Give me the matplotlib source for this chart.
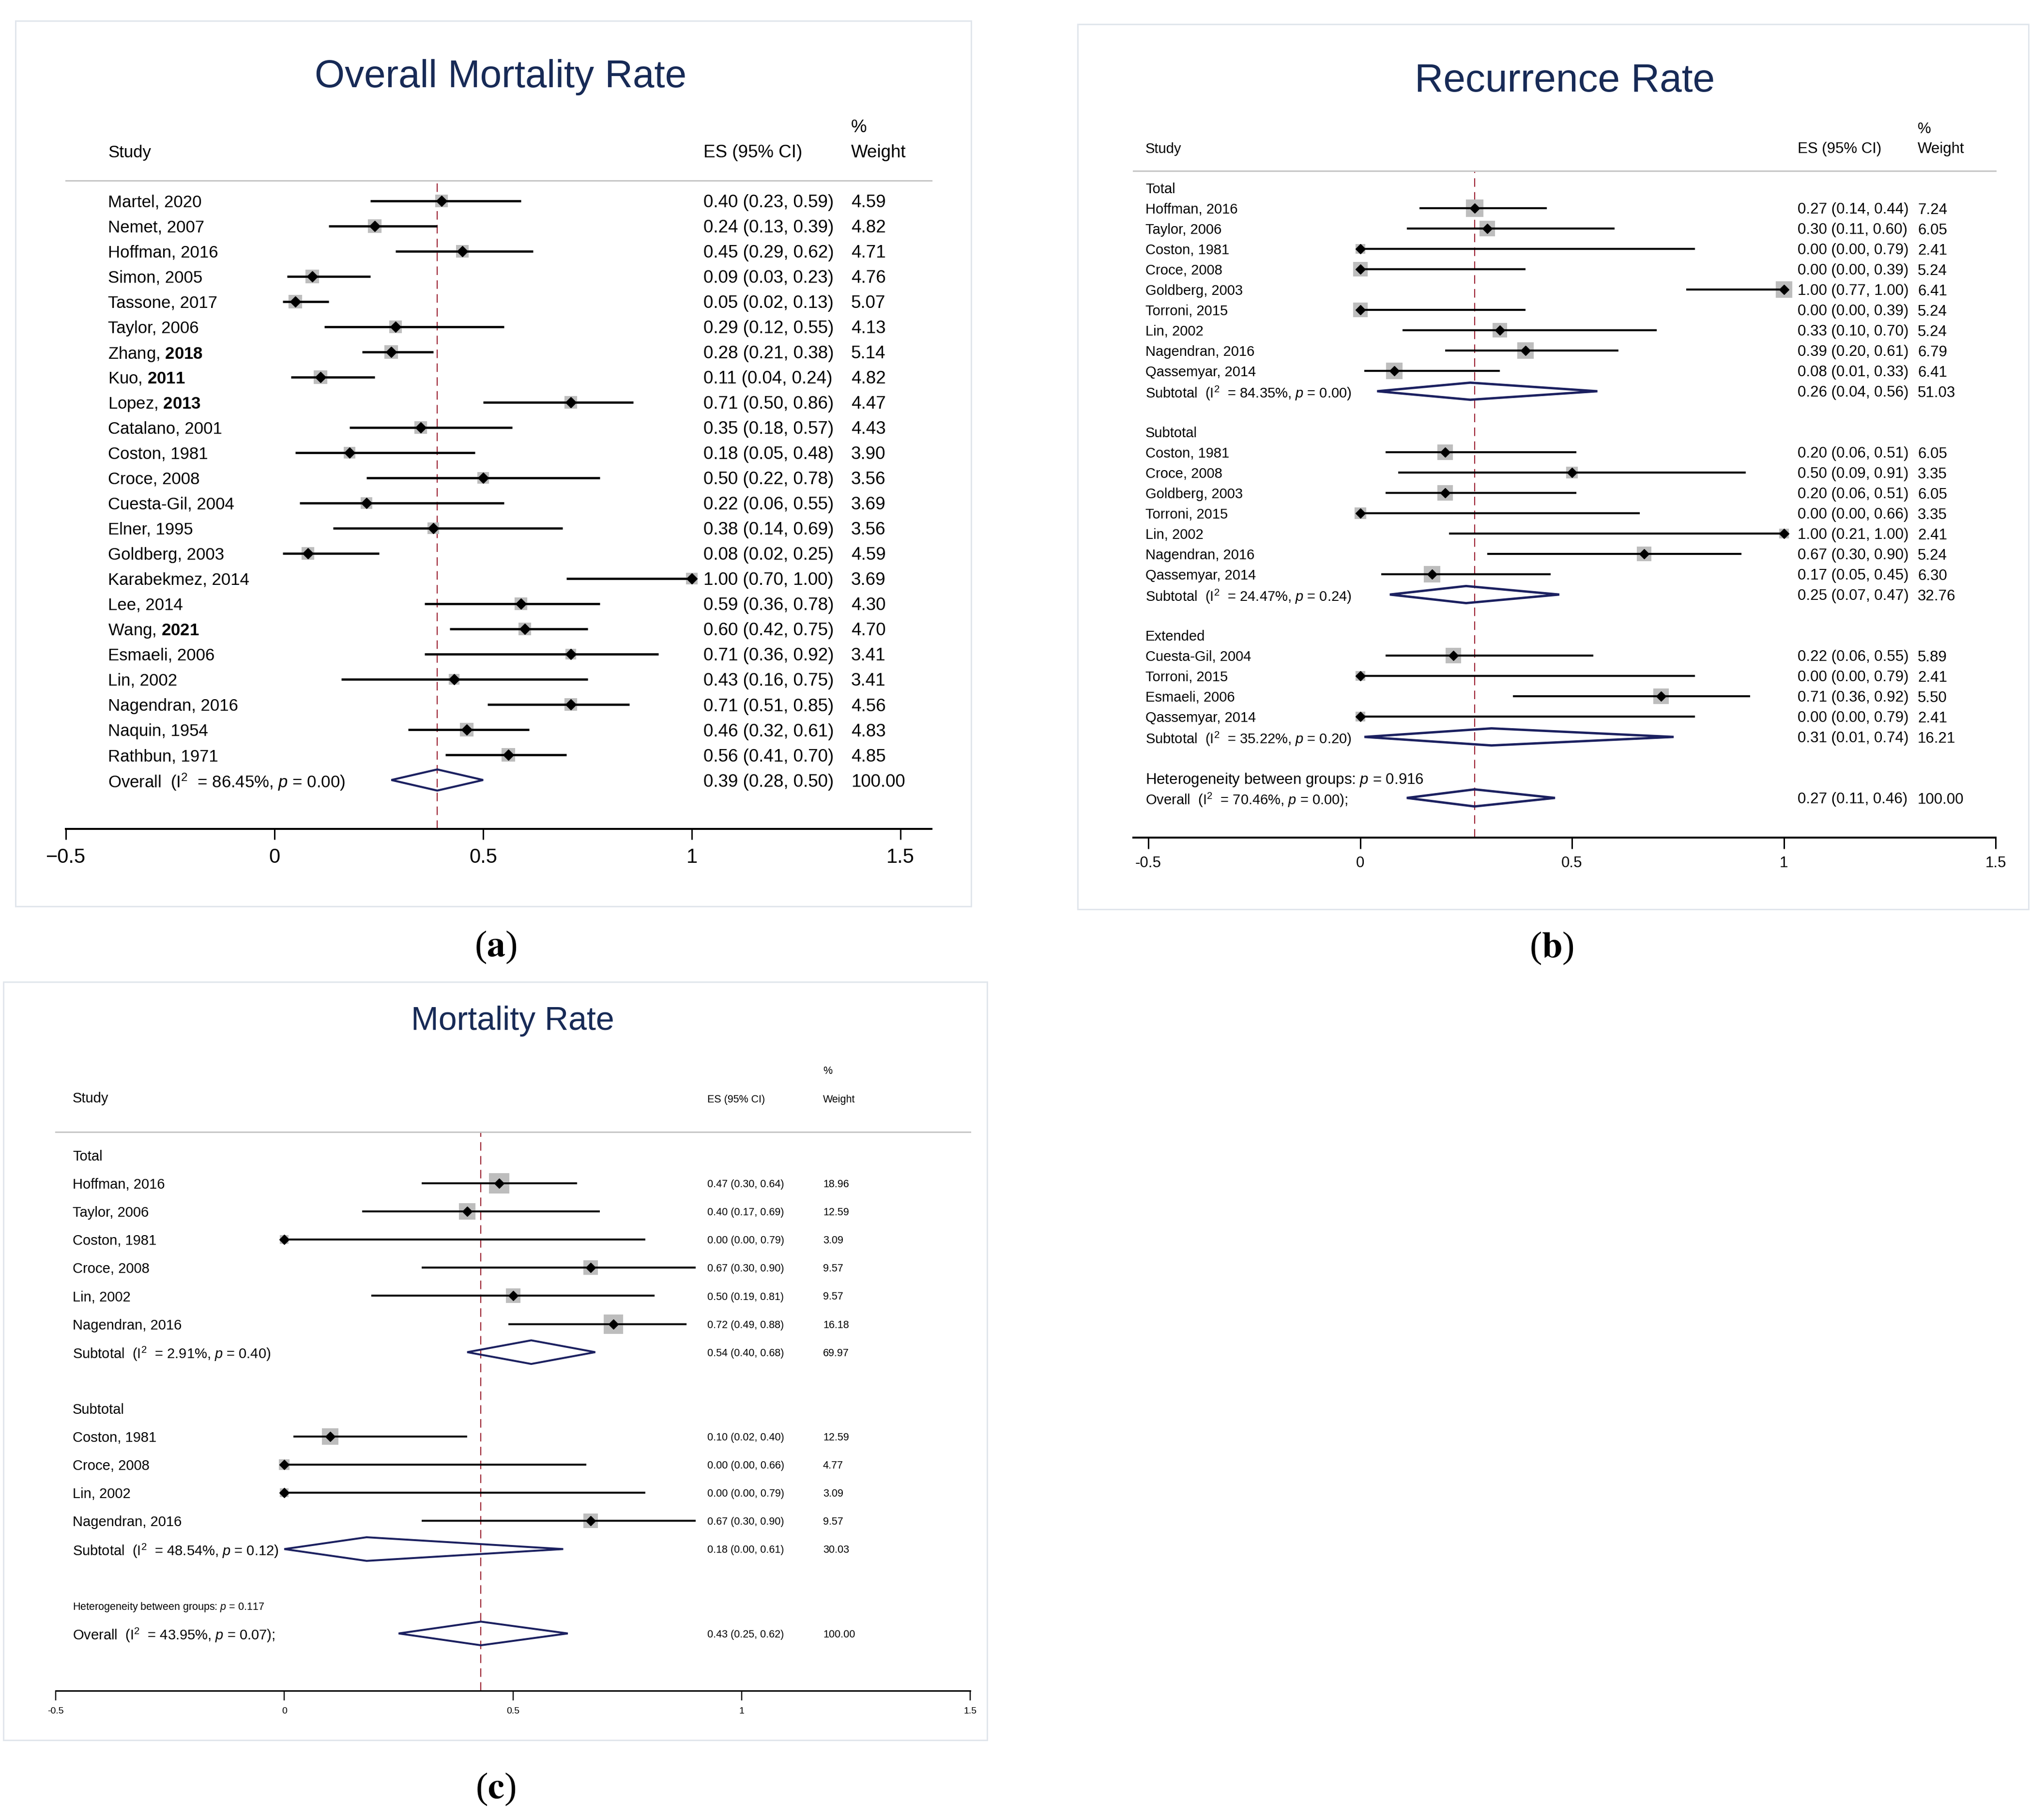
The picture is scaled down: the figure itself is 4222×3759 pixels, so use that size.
import numpy as np
import matplotlib.pyplot as plt
from matplotlib import transforms
from matplotlib.patches import Rectangle, Polygon

plt.rcParams["font.family"] = "Liberation Sans"
plt.rcParams["mathtext.fontset"] = "custom"
plt.rcParams["mathtext.rm"] = "Liberation Sans"
plt.rcParams["mathtext.it"] = "Liberation Sans:italic"
plt.rcParams["mathtext.bf"] = "Liberation Sans:bold"

# %% data -- panel (a) Overall Mortality Rate
A_STUDY = ["Martel, 2020", "Nemet, 2007", "Hoffman, 2016", "Simon, 2005",
           "Tassone, 2017", "Taylor, 2006", "Zhang, $\\mathbf{2018}$",
           "Kuo, $\\mathbf{2011}$", "Lopez, $\\mathbf{2013}$", "Catalano, 2001",
           "Coston, 1981", "Croce, 2008", "Cuesta-Gil, 2004", "Elner, 1995",
           "Goldberg, 2003", "Karabekmez, 2014", "Lee, 2014",
           "Wang, $\\mathbf{2021}$", "Esmaeli, 2006", "Lin, 2002",
           "Nagendran, 2016", "Naquin, 1954", "Rathbun, 1971"]
A_ES = [0.40, 0.24, 0.45, 0.09, 0.05, 0.29, 0.28, 0.11, 0.71, 0.35, 0.18, 0.50,
        0.22, 0.38, 0.08, 1.00, 0.59, 0.60, 0.71, 0.43, 0.71, 0.46, 0.56]
A_LO = [0.23, 0.13, 0.29, 0.03, 0.02, 0.12, 0.21, 0.04, 0.50, 0.18, 0.05, 0.22,
        0.06, 0.14, 0.02, 0.70, 0.36, 0.42, 0.36, 0.16, 0.51, 0.32, 0.41]
A_HI = [0.59, 0.39, 0.62, 0.23, 0.13, 0.55, 0.38, 0.24, 0.86, 0.57, 0.48, 0.78,
        0.55, 0.69, 0.25, 1.00, 0.78, 0.75, 0.92, 0.75, 0.85, 0.61, 0.70]
A_WT = [4.59, 4.82, 4.71, 4.76, 5.07, 4.13, 5.14, 4.82, 4.47, 4.43, 3.90, 3.56,
        3.69, 3.56, 4.59, 3.69, 4.30, 4.70, 3.41, 3.41, 4.56, 4.83, 4.85]
A_OVERALL = [0.39, 0.28, 0.50, 100.00]
A_OVERALL_I2, A_OVERALL_P = "86.45%", "0.00"

# %% data -- panel (b) Recurrence Rate
B_GROUPS = ["Total", "Subtotal", "Extended"]
B_STUDY = [["Hoffman, 2016", "Taylor, 2006", "Coston, 1981", "Croce, 2008",
            "Goldberg, 2003", "Torroni, 2015", "Lin, 2002", "Nagendran, 2016",
            "Qassemyar, 2014"],
           ["Coston, 1981", "Croce, 2008", "Goldberg, 2003", "Torroni, 2015",
            "Lin, 2002", "Nagendran, 2016", "Qassemyar, 2014"],
           ["Cuesta-Gil, 2004", "Torroni, 2015", "Esmaeli, 2006", "Qassemyar, 2014"]]
B_ES = [[0.27, 0.30, 0.00, 0.00, 1.00, 0.00, 0.33, 0.39, 0.08],
        [0.20, 0.50, 0.20, 0.00, 1.00, 0.67, 0.17],
        [0.22, 0.00, 0.71, 0.00]]
B_LO = [[0.14, 0.11, 0.00, 0.00, 0.77, 0.00, 0.10, 0.20, 0.01],
        [0.06, 0.09, 0.06, 0.00, 0.21, 0.30, 0.05],
        [0.06, 0.00, 0.36, 0.00]]
B_HI = [[0.44, 0.60, 0.79, 0.39, 1.00, 0.39, 0.70, 0.61, 0.33],
        [0.51, 0.91, 0.51, 0.66, 1.00, 0.90, 0.45],
        [0.55, 0.79, 0.92, 0.79]]
B_WT = [[7.24, 6.05, 2.41, 5.24, 6.41, 5.24, 5.24, 6.79, 6.41],
        [6.05, 3.35, 6.05, 3.35, 2.41, 5.24, 6.30],
        [5.89, 2.41, 5.50, 2.41]]
B_SUB_ES = [0.26, 0.25, 0.31]
B_SUB_LO = [0.04, 0.07, 0.01]
B_SUB_HI = [0.56, 0.47, 0.74]
B_SUB_WT = [51.03, 32.76, 16.21]
B_SUB_I2 = ["84.35%", "24.47%", "35.22%"]
B_SUB_P = ["0.00", "0.24", "0.20"]
B_HET_P = "0.916"
B_OVERALL = [0.27, 0.11, 0.46, 100.00]
B_OVERALL_I2, B_OVERALL_P = "70.46%", "0.00"

# %% data -- panel (c) Mortality Rate
C_GROUPS = ["Total", "Subtotal"]
C_STUDY = [["Hoffman, 2016", "Taylor, 2006", "Coston, 1981", "Croce, 2008",
            "Lin, 2002", "Nagendran, 2016"],
           ["Coston, 1981", "Croce, 2008", "Lin, 2002", "Nagendran, 2016"]]
C_ES = [[0.47, 0.40, 0.00, 0.67, 0.50, 0.72], [0.10, 0.00, 0.00, 0.67]]
C_LO = [[0.30, 0.17, 0.00, 0.30, 0.19, 0.49], [0.02, 0.00, 0.00, 0.30]]
C_HI = [[0.64, 0.69, 0.79, 0.90, 0.81, 0.88], [0.40, 0.66, 0.79, 0.90]]
C_WT = [[18.96, 12.59, 3.09, 9.57, 9.57, 16.18], [12.59, 4.77, 3.09, 9.57]]
C_SUB_ES = [0.54, 0.18]
C_SUB_LO = [0.40, 0.00]
C_SUB_HI = [0.68, 0.61]
C_SUB_WT = [69.97, 30.03]
C_SUB_I2 = ["2.91%", "48.54%"]
C_SUB_P = ["0.40", "0.12"]
C_HET_P = "0.117"
C_OVERALL = [0.43, 0.25, 0.62, 100.00]
C_OVERALL_I2, C_OVERALL_P = "43.95%", "0.07"

TICKS = [-0.5, 0, 0.5, 1, 1.5]

# %% styling
W, H = 4222, 3759
DPI = 100
PT = 72 / DPI
NAVY = "#1b2060"
TITLE_C = "#172a56"
RED = "#9c2233"
BOX_C = "#bdbdbd"
FRAME_C = "#e1e6ec"

fig = plt.figure(figsize=(W / DPI, H / DPI), dpi=DPI)


def pooled_label(name, i2, p, tail=""):
    return name + "  (I$^{2}$  = " + i2 + ", $\\mathit{p}$ = " + p + ")" + tail


def grouped_rows(groups, study, es, lo, hi, wt, s_es, s_lo, s_hi, s_wt,
                 s_i2, s_p, het_p, ov, ov_i2, ov_p):
    rows = []
    for g in range(len(groups)):
        rows.append(("head", groups[g], None))
        for j in range(len(study[g])):
            rows.append(("study", study[g][j], (es[g][j], lo[g][j], hi[g][j], wt[g][j])))
        rows.append(("pool", pooled_label("Subtotal", s_i2[g], s_p[g]),
                     (s_es[g], s_lo[g], s_hi[g], s_wt[g])))
        rows.append(("blank", "", None))
    rows.append(("het", "Heterogeneity between groups: $\\mathit{p}$ = " + het_p, None))
    rows.append(("pool", pooled_label("Overall", ov_i2, ov_p, ";"), tuple(ov)))
    return rows


def forest(rows, overall_es, L):
    # axes spans from the header rule (top spine) to the x axis line (bottom spine)
    left = L["x_m05"] + (L["lo"] + 0.5) * L["unit"]
    width = (L["hi"] - L["lo"]) * L["unit"]
    ax = fig.add_axes([left / W, 1 - L["y_bot"] / H, width / W,
                       (L["y_bot"] - L["y_top"]) / H])
    ax.set_facecolor("none")
    ax.set_xlim(L["lo"], L["hi"])
    ax.set_ylim((L["y_bot"] - L["y0"]) / L["dy"], (L["y_top"] - L["y0"]) / L["dy"])
    for s in ["left", "right"]:
        ax.spines[s].set_visible(False)
    ax.spines["top"].set_color("#c6c6c6")
    ax.spines["top"].set_linewidth(3 * PT)
    ax.spines["bottom"].set_linewidth(L["axis_lw"] * PT)
    ax.set_yticks([])
    ax.set_xticks(TICKS)
    ax.set_xticklabels(L["ticklabels"])
    ax.tick_params(axis="x", direction="out", length=L["tick_len"] * PT,
                   width=L["tick_w"] * PT, labelsize=L["tick_fs"], pad=L["tick_pad"])

    ax.axvline(overall_es, color=RED, lw=2.2 * PT, ls=(0, (8, 5)), zorder=1)

    trans = transforms.blended_transform_factory(fig.transFigure, ax.transData)
    h = 0.42
    for i, (kind, label, v) in enumerate(rows):
        fs = L["het_fs"] if kind == "het" else L["fs"]
        if label:
            ax.text(L["x_study"] / W, i, label, transform=trans, fontsize=fs,
                    ha="left", va="center_baseline", clip_on=False)
        if v is None:
            continue
        es, lo, hi, wt = v
        ax.text(L["x_es"] / W, i, f"{es:.2f} ({lo:.2f}, {hi:.2f})", transform=trans,
                fontsize=L["es_fs"], ha="left", va="center_baseline", clip_on=False)
        ax.text(L["x_wt"] / W, i, f"{wt:.2f}", transform=trans,
                fontsize=L["es_fs"], ha="left", va="center_baseline", clip_on=False)
        if kind == "study":
            side = L["box_k"] * np.sqrt(wt) * PT
            ax.scatter([es], [i], marker="s", s=side ** 2, color=BOX_C,
                       linewidths=0, zorder=2, clip_on=False)
            ax.plot([lo, hi], [i, i], color="black", lw=L["ci_lw"] * PT,
                    solid_capstyle="butt", zorder=3)
            ax.plot([es], [i], marker="D", ms=L["ms"], color="black", ls="none",
                    zorder=4, clip_on=False)
        else:
            ax.add_patch(Polygon([[lo, i], [es, i - h], [hi, i], [es, i + h]],
                                 closed=True, fill=False, ec=NAVY,
                                 lw=L["dia_lw"] * PT, joinstyle="miter", zorder=3))

    # header
    fig.text(L["x_study"] / W, 1 - L["hdr_base"] / H, "Study",
             fontsize=L["fs"], ha="left", va="baseline")
    fig.text(L["x_es"] / W, 1 - L["hdr_base"] / H, "ES (95% CI)",
             fontsize=L["es_fs"], ha="left", va="baseline")
    fig.text(L["x_wt"] / W, 1 - L["hdr_base"] / H, "Weight",
             fontsize=L["es_fs"], ha="left", va="baseline")
    fig.text(L["x_wt"] / W, 1 - L["pct_base"] / H, "%",
             fontsize=L["es_fs"], ha="left", va="baseline")
    fig.text(L["title_x"] / W, 1 - L["title_base"] / H, L["title"],
             fontsize=L["title_fs"], color=TITLE_C, ha="center", va="baseline")
    # frame and panel letter
    fx0, fy0, fx1, fy1 = L["frame"]
    fig.add_artist(Rectangle((fx0 / W, 1 - fy1 / H), (fx1 - fx0) / W, (fy1 - fy0) / H,
                             transform=fig.transFigure, fill=False, ec=FRAME_C,
                             lw=3 * PT))
    fig.text(L["lab_xy"][0] / W, 1 - L["lab_xy"][1] / H, "($\\mathbf{" + L["letter"] + "}$)",
             fontsize=55, family="Liberation Serif", math_fontfamily="stix",
             ha="center", va="center")
    return ax


# %% panel (a)
rows_a = [("study", A_STUDY[i], (A_ES[i], A_LO[i], A_HI[i], A_WT[i]))
          for i in range(len(A_STUDY))]
rows_a.append(("pool", pooled_label("Overall", A_OVERALL_I2, A_OVERALL_P), tuple(A_OVERALL)))

forest(rows_a, A_OVERALL[0], dict(
    x_m05=136, unit=862, lo=-0.5, hi=1.574, y_top=373, y_bot=1712, y0=415, dy=52.0,
    axis_lw=4, tick_len=22, tick_w=3, tick_fs=30, tick_pad=12,
    ticklabels=["\u22120.5", "0", "0.5", "1", "1.5"],
    fs=25, es_fs=26.5, het_fs=25, x_study=223, x_es=1453, x_wt=1758,
    box_k=12.4, ci_lw=4.6, ms=11, dia_lw=4.2,
    hdr_base=325, pct_base=273, title="Overall Mortality Rate", title_x=1034,
    title_base=180, title_fs=57.5, frame=(32, 43, 2006, 1872),
    lab_xy=(1024, 1956), letter="a"))

# %% panel (b)
rows_b = grouped_rows(B_GROUPS, B_STUDY, B_ES, B_LO, B_HI, B_WT, B_SUB_ES, B_SUB_LO,
                      B_SUB_HI, B_SUB_WT, B_SUB_I2, B_SUB_P, B_HET_P, B_OVERALL,
                      B_OVERALL_I2, B_OVERALL_P)
forest(rows_b, B_OVERALL[0], dict(
    x_m05=2372, unit=875, lo=-0.535, hi=1.5, y_top=353, y_bot=1730, y0=388, dy=42.0,
    axis_lw=4, tick_len=23, tick_w=3, tick_fs=22.5, tick_pad=11,
    ticklabels=["-0.5", "0", "0.5", "1", "1.5"],
    fs=21, es_fs=22.5, het_fs=22.5, x_study=2366, x_es=3713, x_wt=3961,
    box_k=13.4, ci_lw=4.2, ms=10.5, dia_lw=4.8,
    hdr_base=316, pct_base=275, title="Recurrence Rate", title_x=3232,
    title_base=189, title_fs=59, frame=(2226, 50, 4190, 1878),
    lab_xy=(3205, 1958), letter="b"))

# %% panel (c)
rows_c = grouped_rows(C_GROUPS, C_STUDY, C_ES, C_LO, C_HI, C_WT, C_SUB_ES, C_SUB_LO,
                      C_SUB_HI, C_SUB_WT, C_SUB_I2, C_SUB_P, C_HET_P, C_OVERALL,
                      C_OVERALL_I2, C_OVERALL_P)
forest(rows_c, C_OVERALL[0], dict(
    x_m05=115, unit=944.5, lo=-0.5, hi=1.5, y_top=2338, y_bot=3492, y0=2386, dy=58.1,
    axis_lw=3, tick_len=20, tick_w=2.5, tick_fs=14, tick_pad=10,
    ticklabels=["-0.5", "0", "0.5", "1", "1.5"],
    fs=21, es_fs=15.5, het_fs=15.5, x_study=150, x_es=1461, x_wt=1700,
    box_k=9.7, ci_lw=4.0, ms=10, dia_lw=4,
    hdr_base=2277, pct_base=2218, title="Mortality Rate", title_x=1059,
    title_base=2127, title_fs=49, frame=(7, 2028, 2039, 3594),
    lab_xy=(1024, 3695), letter="c"))

fig.savefig("out.png", dpi=DPI, facecolor="white")
